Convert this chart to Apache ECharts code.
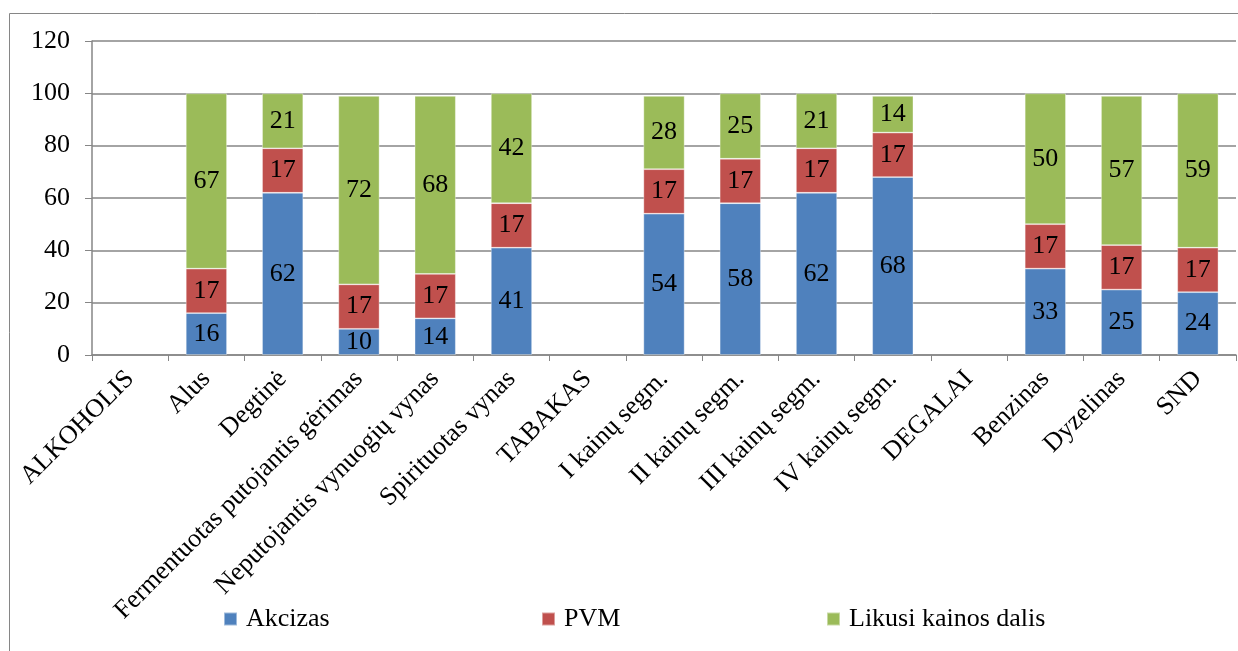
<!DOCTYPE html>
<html>
<head>
<meta charset="utf-8">
<script src="https://cdn.jsdelivr.net/npm/echarts@6/dist/echarts.min.js"></script>
<style>
html,body{margin:0;padding:0;background:#fff;}
#c{width:1238px;height:651px;}
</style>
</head>
<body>
<div id="c"></div>
<script>
const categories = ['ALKOHOLIS','Alus','Degtinė','Fermentuotas putojantis gėrimas','Neputojantis vynuogių vynas','Spirituotas vynas','TABAKAS','I kainų segm.','II kainų segm.','III kainų segm.','IV kainų segm.','DEGALAI','Benzinas','Dyzelinas','SND'];
const akcizas = [null,16,62,10,14,41,null,54,58,62,68,null,33,25,24];
const pvm     = [null,17,17,17,17,17,null,17,17,17,17,null,17,17,17];
const likusi  = [null,67,21,72,68,42,null,28,25,21,14,null,50,57,59];
const seriesNames = ['Akcizas','PVM','Likusi kainos dalis'];
const yTicks = {min:0, max:120, interval:20};

const FONT = '"Liberation Serif","Times New Roman",serif';
const colors = ['#4F81BD','#C0504D','#9BBB59'];
const chart = echarts.init(document.getElementById('c'));
const mk = (name, data, i) => ({
  name, type:'bar', stack:'s', data, barWidth:'54%',
  itemStyle:{color:colors[i], borderColor:'rgba(255,255,255,0.45)', borderWidth:0.8},
  label:{show:true, position:'inside', color:'#000', fontFamily:FONT, fontSize:26},
  emphasis:{disabled:true}
});
const leg = (name, left) => ({
  left, top:601, itemWidth:13, itemHeight:13, icon:'rect', itemGap:0,
  textStyle:{fontFamily:FONT, fontSize:26, color:'#000', padding:[0,0,0,4]},
  data:[name], selectedMode:false
});
chart.setOption({
  animation:false,
  textStyle:{fontFamily:FONT},
  graphic:[{type:'rect', shape:{x:9.5,y:13.5,width:1260,height:700}, style:{fill:'none', stroke:'#868686', lineWidth:1}, silent:true}],
  grid:{left:92, right:2, top:41, bottom:296, containLabel:false},
  legend:[leg(seriesNames[0],218), leg(seriesNames[1],536), leg(seriesNames[2],821)],
  xAxis:{
    type:'category', data:categories,
    axisLine:{lineStyle:{color:'#868686', width:1.5}},
    axisTick:{show:true, length:6, lineStyle:{color:'#868686'}, alignWithLabel:false},
    axisLabel:{rotate:45, interval:0, fontFamily:FONT, fontSize:26, color:'#000', margin:20}
  },
  yAxis:{
    type:'value', min:yTicks.min, max:yTicks.max, interval:yTicks.interval,
    axisLine:{show:true, lineStyle:{color:'#868686', width:1.5}},
    axisTick:{show:true, length:7, lineStyle:{color:'#868686'}},
    splitLine:{lineStyle:{color:'#868686', width:1.5}},
    axisLabel:{fontFamily:FONT, fontSize:26, color:'#000', margin:22}
  },
  series:[mk(seriesNames[0], akcizas, 0), mk(seriesNames[1], pvm, 1), mk(seriesNames[2], likusi, 2)]
});
</script>
</body>
</html>
